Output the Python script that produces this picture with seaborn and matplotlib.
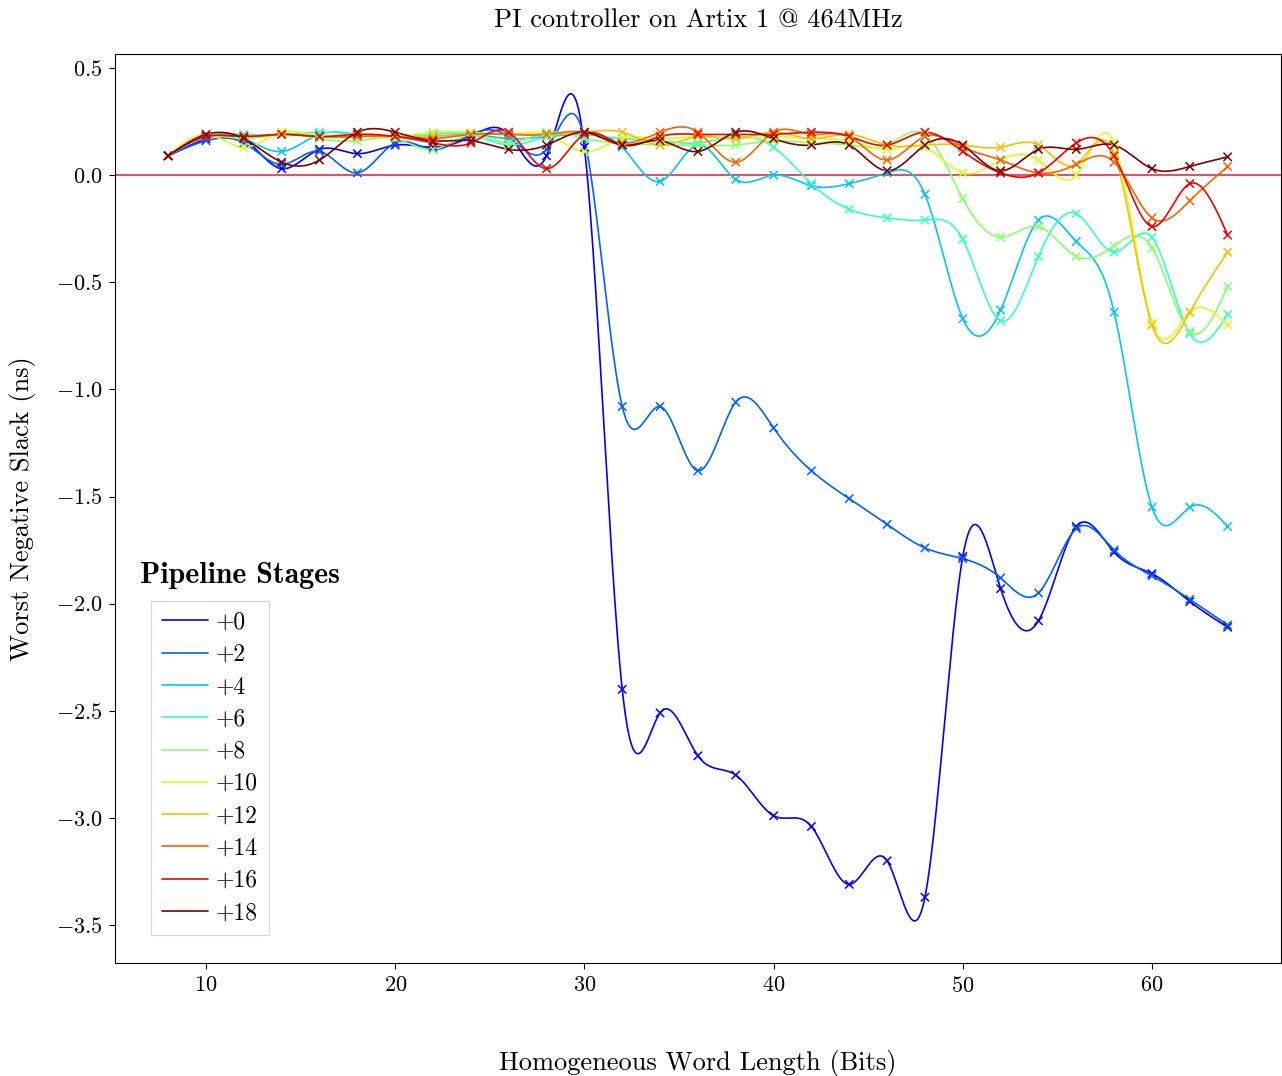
import numpy as np
import pandas as pd
import matplotlib
matplotlib.use("Agg")
import matplotlib.pyplot as plt
import seaborn as sns
from matplotlib.lines import Line2D
from matplotlib.ticker import FixedLocator, FuncFormatter

# ---------------- data ----------------
word_length = [8, 10, 12, 14, 16, 18, 20, 22, 24, 26, 28, 30, 32, 34, 36, 38,
               40, 42, 44, 46, 48, 50, 52, 54, 56, 58, 60, 62, 64]

stage_labels = ["+0", "+2", "+4", "+6", "+8", "+10", "+12", "+14", "+16", "+18"]

wns_p0 = [0.09, 0.17, 0.17, 0.03, 0.12, 0.10, 0.14, 0.13, 0.18, 0.19, 0.09, 0.13,
          -2.40, -2.51, -2.71, -2.80, -2.99, -3.04, -3.31, -3.20, -3.37,
          -1.78, -1.93, -2.08, -1.64, -1.76, -1.86, -1.99, -2.11]
wns_p2 = [0.09, 0.16, 0.15, 0.05, 0.11, 0.01, 0.15, 0.12, 0.19, 0.18, 0.12, 0.17,
          -1.08, -1.08, -1.38, -1.06, -1.18, -1.38, -1.51, -1.63, -1.74,
          -1.79, -1.88, -1.95, -1.65, -1.75, -1.87, -1.98, -2.10]
wns_p4 = [0.09, 0.18, 0.17, 0.11, 0.19, 0.19, 0.18, 0.18, 0.19, 0.17, 0.18, 0.19,
          0.13, -0.03, 0.14, -0.02, 0.00, -0.05, -0.04, 0.01, -0.09,
          -0.67, -0.63, -0.21, -0.31, -0.64, -1.55, -1.55, -1.64]
wns_p6 = [0.09, 0.18, 0.19, 0.19, 0.20, 0.19, 0.18, 0.19, 0.19, 0.14, 0.18, 0.19,
          0.17, 0.16, 0.15, 0.18, 0.13, -0.04, -0.16, -0.20, -0.21,
          -0.30, -0.68, -0.38, -0.18, -0.36, -0.29, -0.74, -0.65]
wns_p8 = [0.09, 0.18, 0.17, 0.19, 0.17, 0.16, 0.17, 0.12, 0.19, 0.15, 0.20, 0.17,
          0.15, 0.14, 0.14, 0.14, 0.16, 0.15, 0.14, 0.14, 0.19,
          -0.11, -0.29, -0.24, -0.38, -0.33, -0.34, -0.73, -0.52]
wns_p10 = [0.09, 0.19, 0.13, 0.20, 0.18, 0.18, 0.18, 0.20, 0.20, 0.19, 0.19, 0.11,
           0.17, 0.17, 0.18, 0.17, 0.18, 0.17, 0.16, 0.12, 0.13,
           0.01, 0.07, 0.07, 0.00, 0.15, -0.69, -0.64, -0.70]
wns_p12 = [0.09, 0.18, 0.18, 0.19, 0.18, 0.18, 0.18, 0.18, 0.19, 0.19, 0.19, 0.20,
           0.20, 0.14, 0.18, 0.17, 0.20, 0.17, 0.19, 0.14, 0.14,
           0.14, 0.13, 0.14, 0.05, 0.10, -0.70, -0.64, -0.36]
wns_p14 = [0.09, 0.18, 0.18, 0.19, 0.18, 0.18, 0.18, 0.17, 0.19, 0.19, 0.19, 0.20,
           0.15, 0.20, 0.20, 0.06, 0.20, 0.19, 0.18, 0.07, 0.18,
           0.13, 0.07, 0.01, 0.05, 0.06, -0.20, -0.12, 0.04]
wns_p16 = [0.09, 0.18, 0.18, 0.19, 0.18, 0.19, 0.18, 0.15, 0.15, 0.20, 0.03, 0.19,
           0.14, 0.18, 0.19, 0.19, 0.19, 0.20, 0.18, 0.14, 0.20,
           0.11, 0.01, 0.01, 0.15, 0.09, -0.24, -0.04, -0.28]
wns_p18 = [0.09, 0.19, 0.17, 0.06, 0.07, 0.20, 0.20, 0.16, 0.16, 0.12, 0.14, 0.20,
           0.14, 0.16, 0.11, 0.20, 0.17, 0.14, 0.14, 0.02, 0.14,
           0.14, 0.02, 0.12, 0.12, 0.14, 0.03, 0.04, 0.085]

series = [wns_p0, wns_p2, wns_p4, wns_p6, wns_p8,
          wns_p10, wns_p12, wns_p14, wns_p16, wns_p18]


# ---------------- smoothing (natural cubic spline for drawing) ----------------
def natural_spline(x, y, per_seg=40):
    x = np.asarray(x, float)
    y = np.asarray(y, float)
    n = len(x)
    h = np.diff(x)
    A = np.zeros((n, n))
    r = np.zeros(n)
    A[0, 0] = 1.0
    A[-1, -1] = 1.0
    for i in range(1, n - 1):
        A[i, i - 1] = h[i - 1]
        A[i, i] = 2 * (h[i - 1] + h[i])
        A[i, i + 1] = h[i]
        r[i] = 6 * ((y[i + 1] - y[i]) / h[i] - (y[i] - y[i - 1]) / h[i - 1])
    M = np.linalg.solve(A, r)
    xs, ys = [], []
    for i in range(n - 1):
        t = np.linspace(x[i], x[i + 1], per_seg, endpoint=(i == n - 2))
        a = x[i + 1] - t
        b = t - x[i]
        hi = h[i]
        s = (M[i] * a ** 3 / (6 * hi) + M[i + 1] * b ** 3 / (6 * hi)
             + (y[i] / hi - M[i] * hi / 6) * a + (y[i + 1] / hi - M[i + 1] * hi / 6) * b)
        xs.append(t)
        ys.append(s)
    return np.concatenate(xs), np.concatenate(ys)


smooth_frames, point_frames = [], []
for lab, vals in zip(stage_labels, series):
    sx, sy = natural_spline(word_length, vals)
    smooth_frames.append(pd.DataFrame({"bits": sx, "wns": sy, "stage": lab}))
    point_frames.append(pd.DataFrame({"bits": word_length, "wns": vals, "stage": lab}))
smooth_df = pd.concat(smooth_frames, ignore_index=True)
point_df = pd.concat(point_frames, ignore_index=True)

# ---------------- style ----------------
sns.set_theme(style="ticks")
plt.rcParams["font.family"] = ["cmr10", "DejaVu Serif"]
plt.rcParams["mathtext.fontset"] = "cm"
plt.rcParams["axes.unicode_minus"] = False
plt.rcParams["axes.formatter.use_mathtext"] = True
for k in ["text.color", "axes.labelcolor", "xtick.color", "ytick.color",
          "xtick.labelcolor", "ytick.labelcolor", "axes.edgecolor"]:
    plt.rcParams[k] = "black"

cmap = matplotlib.colormaps["jet"]
colors = [cmap(v) for v in np.linspace(0.125, 1.0, len(stage_labels))]
palette = dict(zip(stage_labels, colors))

fig = plt.figure(figsize=(12.82, 10.76), dpi=100)
ax = fig.add_axes([115 / 1282, 1 - 963 / 1076, (1281 - 115) / 1282, (963 - 54) / 1076])

ax.axhline(0.0, color="#e8173f", lw=1.1, zorder=1)

sns.lineplot(data=smooth_df, x="bits", y="wns", hue="stage", palette=palette,
             hue_order=stage_labels, sort=False, estimator=None, lw=1.2,
             legend=False, ax=ax, zorder=3)
sns.scatterplot(data=point_df, x="bits", y="wns", hue="stage", palette=palette,
                hue_order=stage_labels, marker="x", s=36, linewidth=1.1,
                legend=False, ax=ax, zorder=4)

ax.set_xlim(5.19, 66.82)
ax.set_ylim(-3.677, 0.565)

xt = [10, 20, 30, 40, 50, 60]
yt = [0.5, 0.0, -0.5, -1.0, -1.5, -2.0, -2.5, -3.0, -3.5]
ax.xaxis.set_major_locator(FixedLocator(xt))
ax.yaxis.set_major_locator(FixedLocator(yt))
ax.xaxis.set_major_formatter(FuncFormatter(lambda v, p: r"$%d$" % v))
ax.yaxis.set_major_formatter(FuncFormatter(lambda v, p: r"$%.1f$" % v))
ax.tick_params(axis="both", labelsize=16, direction="out", length=4, width=0.8,
               color="black", labelcolor="black", pad=5)

for sp in ax.spines.values():
    sp.set_visible(True)
    sp.set_color("black")
    sp.set_linewidth(0.8)

ax.set_title("PI controller on Artix 1 @ 464MHz", fontsize=19, pad=19, color="black")
ax.set_xlabel("Homogeneous Word Length (Bits)", fontsize=19, labelpad=39, color="black")
ax.set_ylabel("Worst Negative Slack (ns)", fontsize=19, labelpad=14, color="black")

handles = [Line2D([0], [0], color=palette[l], lw=1.2) for l in stage_labels]
leg = ax.legend(handles, stage_labels, loc="lower left",
                bbox_to_anchor=(0.031, 0.031), borderaxespad=0,
                frameon=True, fancybox=False, fontsize=17, handlelength=1.95,
                handletextpad=0.35, labelspacing=0.43, borderpad=0.45)
leg.get_frame().set_edgecolor("#cccccc")
leg.get_frame().set_linewidth(0.8)
for t in leg.get_texts():
    t.set_color("black")

ax.text(0.0214, 0.4268, "Pipeline Stages", transform=ax.transAxes,
        family=["cmb10", "DejaVu Serif"], fontsize=21.5, va="center", ha="left",
        color="black")

fig.savefig("out.png", dpi=100)
